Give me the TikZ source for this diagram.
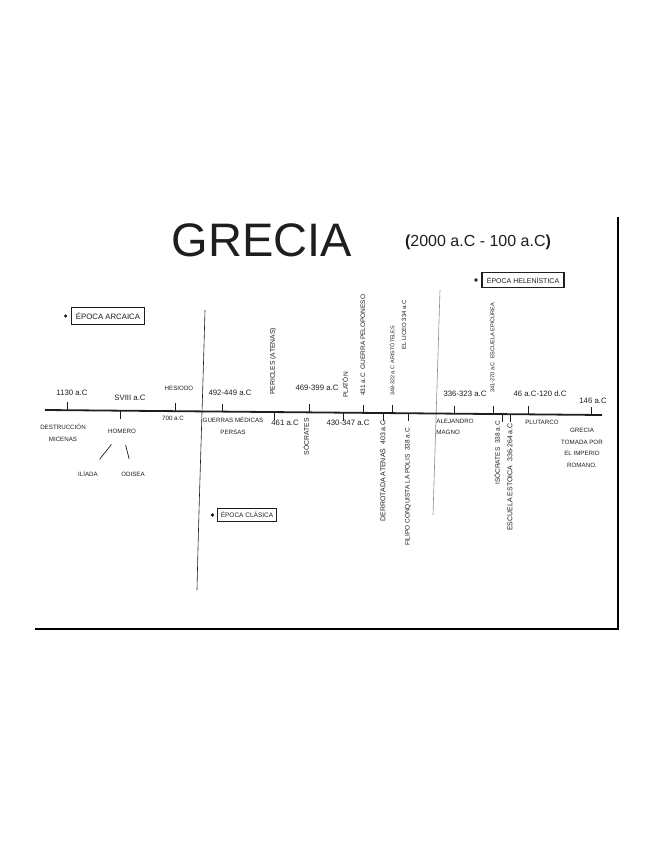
\documentclass[tikz,border=0pt]{standalone}
\usepackage{fontspec}
\setmainfont{Liberation Sans}
\usetikzlibrary{positioning}
\definecolor{Ink}{HTML}{1E1E1E}
\definecolor{Faint}{HTML}{8C8C8C}
\tikzset{lbl/.style={font=\fontsize{6.2}{11.5}\selectfont,text=Ink,inner sep=0pt,align=center},
  datelbl/.style={font=\fontsize{7.8}{9}\selectfont,text=Ink,inner sep=0pt},
  vlbl/.style={lbl,rotate=90,font=\fontsize{6.5}{8}\selectfont},
  tick/.style={line width=1pt,draw=Ink},
  axis/.style={line width=1.8pt,draw=Ink},
  epoca/.style={draw=Ink,line width=1.5pt,inner xsep=4.5pt,inner ysep=5pt,text=Ink},
  bullet/.style={circle,fill=Ink,inner sep=1.3pt},
  link/.style={draw=Ink,line width=0.7pt},
  divider/.style={draw=Ink,line width=0.6pt},
  frame/.style={draw=black,line width=2.6pt}}

\begin{document}
\begin{tikzpicture}[x=1pt,y=-1pt]
  \useasboundingbox (0,0) rectangle (655,848);
  \draw[frame] (35,629) -- (618,629) -- (618,217);
  % titulo
  \node[font=\fontsize{47}{50}\selectfont,text=Ink] (titulo) at (262,240) {GRECIA};
  \node[font=\fontsize{16}{18}\selectfont,text=Ink] (rango) at (478,242) {\textbf{(}2000 a.C - 100 a.C\textbf{)}};
  % separadores de epocas
  \draw[divider] (205,310) .. controls (202,420) and (199,500) .. (197,590);
  \draw[divider,draw=Faint] (440,290) -- (433,515);
  % eje y marcas
  \coordinate (a0) at (45,410); \coordinate (a1) at (602,415);
  \draw[axis] (a0) -- (a1);
  \foreach \x/\nm/\dir in {67/t1130/-1,120/tsviii/1,175/thes/-1,222/tmed/-1,274/tper/1,
      309/tsoc/-1,343/tpla/1,363/tpel/-1,383/tder/1,392/tari/-1,408/tfil/1,454/tale/-1,
      493/tepi/-1,502/tiso/1,510/tsto/1,528/tplu/-1,591/trom/-1}{
    \coordinate (\nm) at (\x,{410+5*(\x-45)/557});
    \draw[tick] (\nm) -- ++(0,\dir*8);}
  % epoca arcaica
  \node[epoca,font=\fontsize{7.8}{9}\selectfont] (arcaica) at (108,316) {ÉPOCA ARCAICA};
  \node[bullet,left=3pt of arcaica] (barc) {};
  \node[datelbl] (l1130) at (72,393) {1130 a.C};
  \node[lbl] (micenas) at (63,433) {DESTRUCCIÓN\\MICENAS};
  \node[datelbl] (lsviii) at (130,398) {SVIII a.C};
  \node[lbl] (homero) at (122,431) {HOMERO};
  \node[lbl] (iliada) at (88,474) {ILÍADA};
  \node[lbl] (odisea) at (133,474) {ODISEA};
  \draw[link,shorten <=14pt,shorten >=15pt] (homero) -- (iliada);
  \draw[link,shorten <=12pt,shorten >=13pt] (homero) -- (odisea);
  \node[lbl] (hesiodo) at (179,388) {HESIODO};
  \node[lbl] (l700) at (173,418) {700 a.C};
  % epoca clasica
  \node[epoca,font=\fontsize{6.5}{8}\selectfont,inner xsep=3.5pt,inner ysep=3.8pt] (clasica) at (247,515) {ÉPOCA CLÁSICA};
  \node[bullet,left=2pt of clasica] (bcla) {};
  \node[datelbl] (lmed) at (230,393) {492-449 a.C};
  \node[lbl] (medicas) at (233,426) {GUERRAS MÉDICAS\\PERSAS};
  \node[datelbl] (l461) at (285,423) {461 a.C};
  \node[vlbl,anchor=west,font=\fontsize{6.8}{8}\selectfont] (pericles) at (273,395) {PERICLES (ATENAS)};
  \node[datelbl] (lsoc) at (317,388) {469-399 a.C};
  \node[vlbl,anchor=east,font=\fontsize{6.8}{8}\selectfont] (socrates) at (306,418) {SÓCRATES};
  \node[datelbl] (lpla) at (348,423) {430-347 a.C};
  \node[vlbl,anchor=west] (platon) at (345,398) {PLATÓN};
  \node[vlbl,anchor=west] (peloponeso) at (363,396) {431 a.C \ GUERRA PELOPONESO};
  \node[vlbl,anchor=east,font=\fontsize{7}{8}\selectfont] (derrota) at (383,420) {DERROTADA ATENAS \ 403 a.C};
  \node[vlbl,anchor=west,font=\fontsize{5.4}{6}\selectfont] (aristoteles) at (392,396) {348-322 a.C \ ARISTÓTELES};
  \node[vlbl,anchor=west,font=\fontsize{6}{7}\selectfont] (liceo) at (404,350) {EL LICEO 334 a.C};
  \node[vlbl,anchor=east] (filipo) at (408,428) {FILIPO CONQUISTA LA POLIS \ 338 a.C};
  % epoca helenistica
  \node[epoca,font=\fontsize{7}{8}\selectfont,inner xsep=5pt,inner ysep=4.5pt] (helenistica) at (523,280) {ÉPOCA HELENÍSTICA};
  \node[bullet,left=3pt of helenistica] (bhel) {};
  \node[datelbl] (lale) at (465,394) {336-323 a.C};
  \node[lbl,align=left] (alejandro) at (455,427) {ALEJANDRO\\MAGNO};
  \node[vlbl,anchor=west,font=\fontsize{5.6}{7}\selectfont] (epicurea) at (492,393) {341-270 a.C \ ESCUELA EPICÚREA};
  \node[vlbl,anchor=east] (isocrates) at (497,421) {ISÓCRATES \ 338 a.C};
  \node[vlbl,anchor=east,font=\fontsize{7}{8}\selectfont] (estoica) at (510,423) {ESCUELA ESTOICA \ 336-264 a.C};
  \node[datelbl] (lplu) at (540,394) {46 a.C-120 d.C};
  \node[lbl] (plutarco) at (542,422) {PLUTARCO};
  \node[datelbl] (l146) at (593,401) {146 a.C};
  \node[lbl] (roma) at (582,448) {GRECIA\\TOMADA POR\\EL IMPERIO\\ROMANO.};
\end{tikzpicture}
\end{document}
